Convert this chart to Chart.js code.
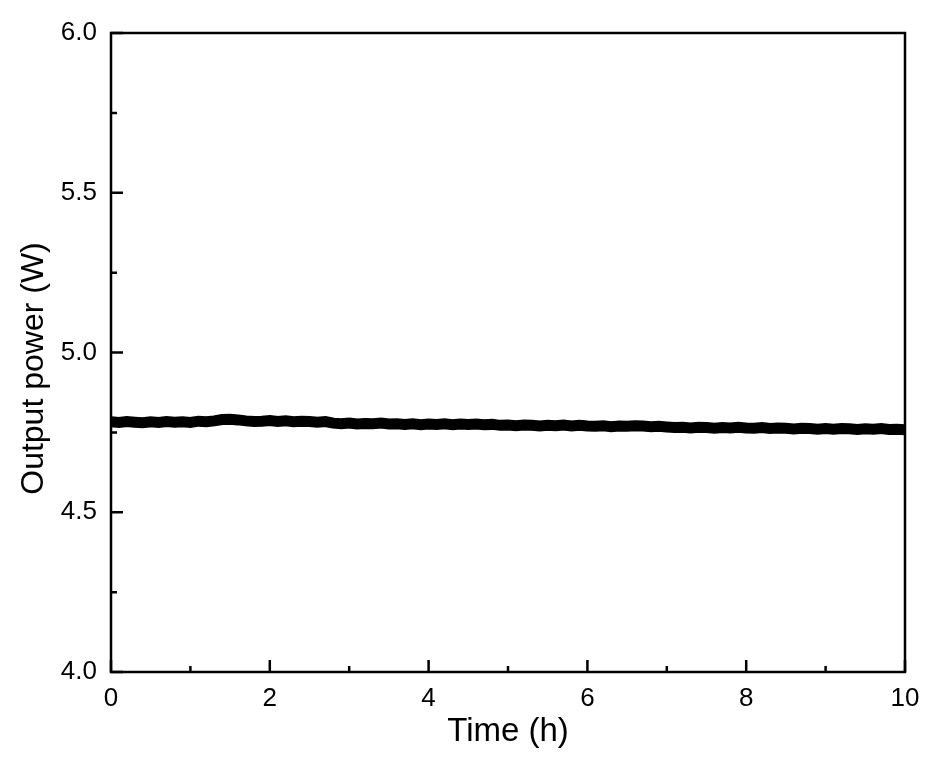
<!DOCTYPE html>
<html>
<head>
<meta charset="utf-8">
<script src="https://cdn.jsdelivr.net/npm/chart.js@4/dist/chart.umd.min.js"></script>
<style>
html,body{margin:0;padding:0;background:#fff;}
#wrap{width:942px;height:760px;}
</style>
</head>
<body>
<div id="wrap"><canvas id="c" width="942" height="760"></canvas></div>
<script>
const timeHours = [];
for (let i = 0; i <= 100; i++) timeHours.push(i / 10);

const outputPower = [
  4.783,4.781,4.784,4.782,4.780,4.783,4.781,4.784,4.782,4.783,4.781,
  4.785,4.783,4.786,4.790,4.791,4.789,4.786,4.784,4.785,4.787,
  4.784,4.786,4.783,4.785,4.784,4.782,4.784,4.779,4.777,4.779,
  4.776,4.778,4.777,4.779,4.776,4.777,4.775,4.777,4.774,4.776,
  4.775,4.777,4.774,4.776,4.775,4.776,4.774,4.775,4.772,4.773,
  4.771,4.773,4.772,4.770,4.772,4.771,4.773,4.770,4.772,4.770,
  4.769,4.771,4.768,4.770,4.769,4.771,4.770,4.768,4.769,4.767,
  4.765,4.766,4.764,4.766,4.765,4.763,4.765,4.764,4.766,4.764,
  4.763,4.765,4.762,4.764,4.763,4.761,4.763,4.762,4.760,4.762,
  4.760,4.762,4.761,4.759,4.761,4.760,4.762,4.759,4.760,4.758
];

const xMajorTicks = [0, 2, 4, 6, 8, 10];
const xMinorTicks = [1, 3, 5, 7, 9];
const yMajorTicks = [4.0, 4.5, 5.0, 5.5, 6.0];
const yMinorTicks = [4.25, 4.75, 5.25, 5.75];

const xTitle = 'Time (h)';
const yTitle = 'Output power (W)';

const FONT = "'Liberation Sans', Arial, sans-serif";

const framePlugin = {
  id: 'frame',
  afterDatasetsDraw(chart) {
    const ctx = chart.ctx;
    const a = chart.chartArea;
    const xs = chart.scales.x, ys = chart.scales.y;
    ctx.save();
    ctx.strokeStyle = '#000';
    ctx.lineWidth = 2.5;
    ctx.lineCap = 'butt';
    ctx.beginPath();
    xMajorTicks.forEach(v => { const p = xs.getPixelForValue(v); ctx.moveTo(p, a.bottom); ctx.lineTo(p, a.bottom - 12); });
    xMinorTicks.forEach(v => { const p = xs.getPixelForValue(v); ctx.moveTo(p, a.bottom); ctx.lineTo(p, a.bottom - 6); });
    yMajorTicks.forEach(v => { const p = ys.getPixelForValue(v); ctx.moveTo(a.left, p); ctx.lineTo(a.left + 12, p); });
    yMinorTicks.forEach(v => { const p = ys.getPixelForValue(v); ctx.moveTo(a.left, p); ctx.lineTo(a.left + 6, p); });
    ctx.stroke();
    ctx.strokeRect(a.left, a.top, a.right - a.left, a.bottom - a.top);
    ctx.restore();
  }
};

new Chart(document.getElementById('c'), {
  type: 'line',
  data: {
    labels: timeHours,
    datasets: [{
      data: timeHours.map((t, i) => ({x: t, y: outputPower[i]})),
      borderColor: '#000',
      borderWidth: 11,
      pointRadius: 0,
      tension: 0,
      fill: false
    }]
  },
  options: {
    responsive: false,
    animation: false,
    devicePixelRatio: 1,
    layout: { padding: { top: 33, right: 37, left: 0, bottom: 0 } },
    plugins: { legend: { display: false }, tooltip: { enabled: false } },
    scales: {
      x: {
        type: 'linear',
        min: 0, max: 10,
        afterFit(s) { s.height = 88; },
        afterBuildTicks(s) { s.ticks = xMajorTicks.map(v => ({value: v})); },
        grid: { display: false, drawTicks: false },
        border: { display: false },
        ticks: { color: '#000', font: { family: FONT, size: 26 }, padding: 11, maxRotation: 0,
                 callback: v => String(v) },
        title: { display: true, text: xTitle, color: '#000', font: { family: FONT, size: 33 },
                 padding: { top: 0, bottom: 8 } }
      },
      y: {
        type: 'linear',
        min: 4.0, max: 6.0,
        afterFit(s) { s.width = 111; },
        afterBuildTicks(s) { s.ticks = yMajorTicks.map(v => ({value: v})); },
        grid: { display: false, drawTicks: false },
        border: { display: false },
        ticks: { color: '#000', font: { family: FONT, size: 26 }, padding: 14,
                 callback: v => Number(v).toFixed(1) },
        title: { display: true, text: yTitle + '\u2002\u2002', color: '#000', font: { family: FONT, size: 32 },
                 padding: { top: 15, bottom: 0 } }
      }
    }
  },
  plugins: [framePlugin]
});
</script>
</body>
</html>
